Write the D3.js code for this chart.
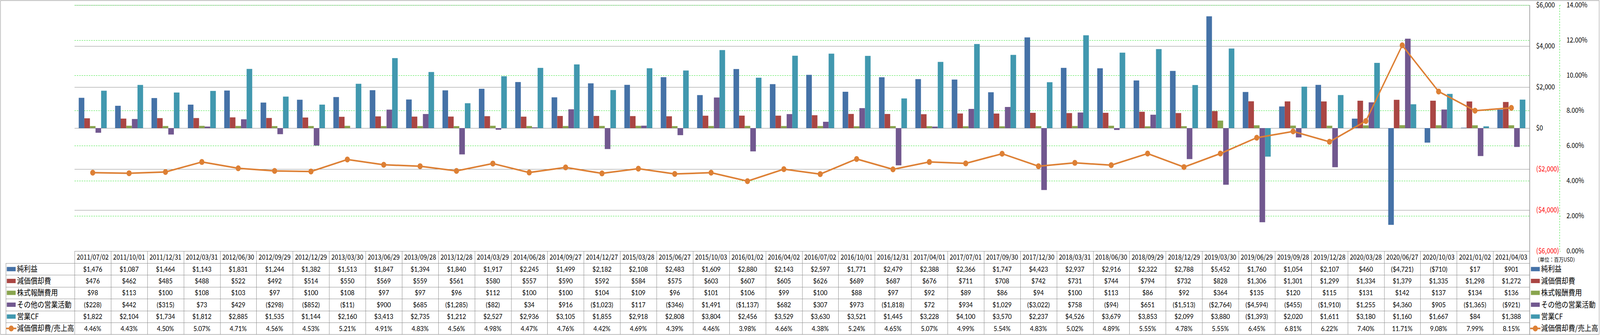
<!DOCTYPE html>
<html>
<head>
<meta charset="utf-8">
<script src="https://cdn.jsdelivr.net/npm/d3@7/dist/d3.min.js"></script>
<style>
  html, body { margin: 0; padding: 0; background: #fff; overflow: hidden; }
  #canvas { width: 100vw; height: 100vh; }
  #canvas svg { display: block; }
</style>
</head>
<body>
<div id="canvas"></div>
<script>
// 四半期末日
var dates = ["2011/07/02","2011/10/01","2011/12/31","2012/03/31","2012/06/30","2012/09/29","2012/12/29","2013/03/30",
  "2013/06/29","2013/09/28","2013/12/28","2014/03/29","2014/06/28","2014/09/27","2014/12/27","2015/03/28",
  "2015/06/27","2015/10/03","2016/01/02","2016/04/02","2016/07/02","2016/10/01","2016/12/31","2017/04/01",
  "2017/07/01","2017/09/30","2017/12/30","2018/03/31","2018/06/30","2018/09/29","2018/12/29","2019/03/30",
  "2019/06/29","2019/09/28","2019/12/28","2020/03/28","2020/06/27","2020/10/03","2021/01/02","2021/04/03"];

// 単位：百万USD
var netIncome = [1476,1087,1464,1143,1831,1244,1382,1513,1847,1394,1840,1917,2245,1499,2182,2108,2483,1609,2880,2143,
  2597,1771,2479,2388,2366,1747,4423,2937,2916,2322,2788,5452,1760,1054,2107,460,-4721,-710,17,901];
var depreciation = [476,462,485,488,522,492,514,550,569,559,561,580,557,590,592,584,575,603,607,605,
  626,689,687,676,711,708,742,731,744,794,732,828,1306,1301,1299,1334,1379,1335,1298,1272];
var stockComp = [98,113,100,108,103,97,100,108,97,97,96,112,100,100,104,109,96,101,106,99,
  100,88,97,92,89,86,94,100,113,86,92,364,135,120,115,131,142,137,134,136];
var otherOps = [-228,442,-315,73,429,-298,-852,-11,900,685,-1285,-82,34,916,-1023,117,-346,1491,-1137,682,
  307,973,-1818,72,934,1029,-3022,758,-94,651,-1513,-2764,-4594,-455,-1910,1255,4360,905,-1365,-921];
var operatingCF = [1822,2104,1734,1812,2885,1535,1144,2160,3413,2735,1212,2527,2936,3105,1855,2918,2808,3804,2456,3529,
  3630,3521,1445,3228,4100,3570,2237,4526,3679,3853,2099,3880,-1393,2020,1611,3180,1160,1667,84,1388];
// 減価償却費/売上高 (%)
var depRatio = [4.46,4.43,4.50,5.07,4.71,4.56,4.53,5.21,4.91,4.83,4.56,4.98,4.47,4.76,4.42,4.69,4.39,4.46,3.98,4.66,
  4.38,5.24,4.65,5.07,4.99,5.54,4.83,5.02,4.89,5.55,4.78,5.55,6.45,6.81,6.22,7.40,11.71,9.08,7.99,8.15];

var seriesNames = ["純利益","減価償却費","株式報酬費用","その他の営業活動","営業CF"];
var seriesColors = ["#4572A7","#AA4643","#89A54E","#71588F","#4198AF"];
var lineName = "減価償却費/売上高";
var lineColor = "#DD8035";

var yTicks = [-6000,-4000,-2000,0,2000,4000,6000];
var y2Ticks = [0,0.02,0.04,0.06,0.08,0.10,0.12,0.14];

var barData = [netIncome, depreciation, stockComp, otherOps, operatingCF];

var W = 4701, H = 858;
var plotL = 219, plotR = 4494, plotT = 13, plotB = 643;
var rowTop = 674, rowH = 30.4;
var gridColor = "#878787";
var numFont = "Lato, 'Noto Sans', sans-serif";
var jpFont = "'Noto Sans CJK JP', 'Noto Sans', sans-serif";

// viewBox で窓に合わせる
var svg = d3.select("#canvas").append("svg")
  .attr("viewBox", "0 0 " + W + " " + H)
  .attr("preserveAspectRatio", "none")
  .attr("width", "100%").attr("height", "100%");

svg.append("rect").attr("width", W).attr("height", H).attr("fill", "#fff");

var x = d3.scaleBand().domain(dates).range([plotL, plotR]).paddingInner(0).paddingOuter(0);
var x1 = d3.scaleBand().domain(seriesNames).range([0, x.bandwidth()]).paddingInner(0).paddingOuter(0.75);
var y = d3.scaleLinear().domain([-6000, 6000]).range([plotB, plotT]);
var y2 = d3.scaleLinear().domain([0, 0.14]).range([plotB, plotT]);

// 目盛線 (主軸:灰 実線)
svg.append("g").selectAll("line").data(yTicks.filter(function(d){ return d > -6000; })).enter().append("line")
  .attr("x1", plotL).attr("x2", plotR)
  .attr("y1", function(d){ return Math.round(y(d)) + 0.5; })
  .attr("y2", function(d){ return Math.round(y(d)) + 0.5; })
  .attr("stroke", gridColor).attr("stroke-width", 1);

// 目盛線 (第2軸:緑 破線)
svg.append("g").selectAll("line").data(y2Ticks.filter(function(d){ return d > 0; })).enter().append("line")
  .attr("x1", plotL).attr("x2", plotR)
  .attr("y1", function(d){ return Math.round(y2(d)) + 0.5; })
  .attr("y2", function(d){ return Math.round(y2(d)) + 0.5; })
  .attr("stroke", "#22E022").attr("stroke-width", 1).attr("stroke-dasharray", "4,3");

// 棒
var groups = svg.append("g").selectAll("g").data(seriesNames).enter().append("g")
  .attr("fill", function(d, i){ return seriesColors[i]; });

groups.selectAll("rect").data(function(d, i){
    return barData[i].map(function(v, j){ return {s: d, date: dates[j], v: v}; });
  }).enter().append("rect")
  .attr("x", function(d){ return x(d.date) + x1(d.s); })
  .attr("width", x1.bandwidth())
  .attr("y", function(d){ return y(Math.max(0, d.v)); })
  .attr("height", function(d){ return Math.abs(y(d.v) - y(0)); });

// 折れ線
var line = d3.line()
  .x(function(d, i){ return x(dates[i]) + x.bandwidth() / 2; })
  .y(function(d){ return y2(d / 100); });

svg.append("path").datum(depRatio)
  .attr("d", line)
  .attr("fill", "none").attr("stroke", lineColor).attr("stroke-width", 4);

svg.append("g").selectAll("circle").data(depRatio).enter().append("circle")
  .attr("cx", function(d, i){ return x(dates[i]) + x.bandwidth() / 2; })
  .attr("cy", function(d){ return y2(d / 100); })
  .attr("r", 7.5).attr("fill", lineColor);

// 主軸 (右側)
function fmtMoney(v) {
  var s = d3.format(",")(Math.abs(v));
  return v < 0 ? "($" + s + ")" : "$" + s;
}

var axis1 = svg.append("g").attr("transform", "translate(" + (plotR + 0.5) + ",0)")
  .call(d3.axisRight(y).tickValues(yTicks).tickSize(0).tickPadding(19).tickFormat(fmtMoney));
axis1.select(".domain").attr("stroke", gridColor).attr("d", "M0," + plotT + "V" + plotB);
axis1.selectAll("text")
  .attr("font-family", jpFont).attr("font-size", 18)
  .attr("fill", function(d){ return d < 0 ? "#FF0000" : "#000"; });

// 第2軸
var axis2 = svg.append("g").attr("transform", "translate(4582.5,0)")
  .call(d3.axisRight(y2).tickValues(y2Ticks).tickSize(3).tickPadding(17).tickFormat(d3.format(".2%")));
axis2.select(".domain").attr("stroke", "#22E022").attr("stroke-dasharray", "4,3")
  .attr("d", "M0," + plotT + "V" + plotB);
axis2.selectAll(".tick line").attr("stroke", "#22E022");
axis2.selectAll("text").attr("font-family", jpFont).attr("font-size", 18).attr("fill", "#000");

svg.append("text").attr("x", 4510).attr("y", 670)
  .attr("font-family", jpFont).attr("font-size", 14).attr("fill", "#000")
  .text("（単位：百万USD）");

// データテーブル
var table = svg.append("g");
var rows = barData.concat([depRatio]);
var rowNames = seriesNames.concat([lineName]);
var tableBottom = rowTop + rowH * rows.length;

table.append("line").attr("x1", plotL).attr("x2", plotR).attr("y1", plotB + 0.5).attr("y2", plotB + 0.5)
  .attr("stroke", gridColor);
table.selectAll(".hline").data(d3.range(rows.length + 1)).enter().append("line")
  .attr("x1", 17).attr("x2", plotR)
  .attr("y1", function(i){ return Math.round(rowTop + i * rowH) + 0.5; })
  .attr("y2", function(i){ return Math.round(rowTop + i * rowH) + 0.5; })
  .attr("stroke", gridColor);
table.selectAll(".vline").data(d3.range(dates.length + 1)).enter().append("line")
  .attr("x1", function(i){ return Math.round(plotL + i * x.step()) + 0.5; })
  .attr("x2", function(i){ return Math.round(plotL + i * x.step()) + 0.5; })
  .attr("y1", plotB).attr("y2", tableBottom)
  .attr("stroke", gridColor);
table.append("line").attr("x1", 17.5).attr("x2", 17.5).attr("y1", rowTop).attr("y2", tableBottom)
  .attr("stroke", gridColor);
table.append("line").attr("x1", plotR + 0.5).attr("x2", plotR + 0.5).attr("y1", plotT).attr("y2", H)
  .attr("stroke", gridColor);

// 日付
table.selectAll(".date").data(dates).enter().append("text")
  .attr("x", function(d){ return x(d) + x.bandwidth() / 2; })
  .attr("y", (plotB + rowTop) / 2).attr("dy", "0.36em")
  .attr("text-anchor", "middle").attr("font-family", jpFont).attr("font-size", 18)
  .text(function(d){ return d; });

rows.forEach(function(vals, r) {
  var cy = rowTop + rowH * (r + 0.5);
  table.append("g").selectAll("text").data(vals).enter().append("text")
    .attr("x", function(d, i){ return x(dates[i]) + x.bandwidth() / 2; })
    .attr("y", cy).attr("dy", "0.36em")
    .attr("text-anchor", "middle").attr("font-family", numFont).attr("font-size", 18)
    .text(function(d){ return r == 5 ? d.toFixed(2) + "%" : fmtMoney(d); });
});

// 凡例 (左のテーブル列と右側)
function legendKey(g, x0, r) {
  var cy = rowTop + rowH * (r + 0.5);
  if (r < 5) {
    g.append("rect").attr("x", x0).attr("y", cy - 5.5).attr("width", 26).attr("height", 11)
      .attr("fill", seriesColors[r]);
  } else {
    g.append("line").attr("x1", x0 - 2).attr("x2", x0 + 28).attr("y1", cy).attr("y2", cy)
      .attr("stroke", lineColor).attr("stroke-width", 4);
    g.append("circle").attr("cx", x0 + 13).attr("cy", cy).attr("r", 7.5).attr("fill", lineColor);
  }
  g.append("text").attr("x", x0 + 30).attr("y", cy).attr("dy", "0.36em")
    .attr("font-family", jpFont).attr("font-size", 20).attr("fill", "#000")
    .text(rowNames[r]);
}

var leg = svg.append("g");
rowNames.forEach(function(n, r) {
  legendKey(leg, 20, r);
  legendKey(leg, 4498, r);
});

// 外枠
svg.append("rect").attr("x", 1.5).attr("y", 1.5).attr("width", W - 4).attr("height", H - 3)
  .attr("fill", "none").attr("stroke", gridColor);
</script>
</body>
</html>
